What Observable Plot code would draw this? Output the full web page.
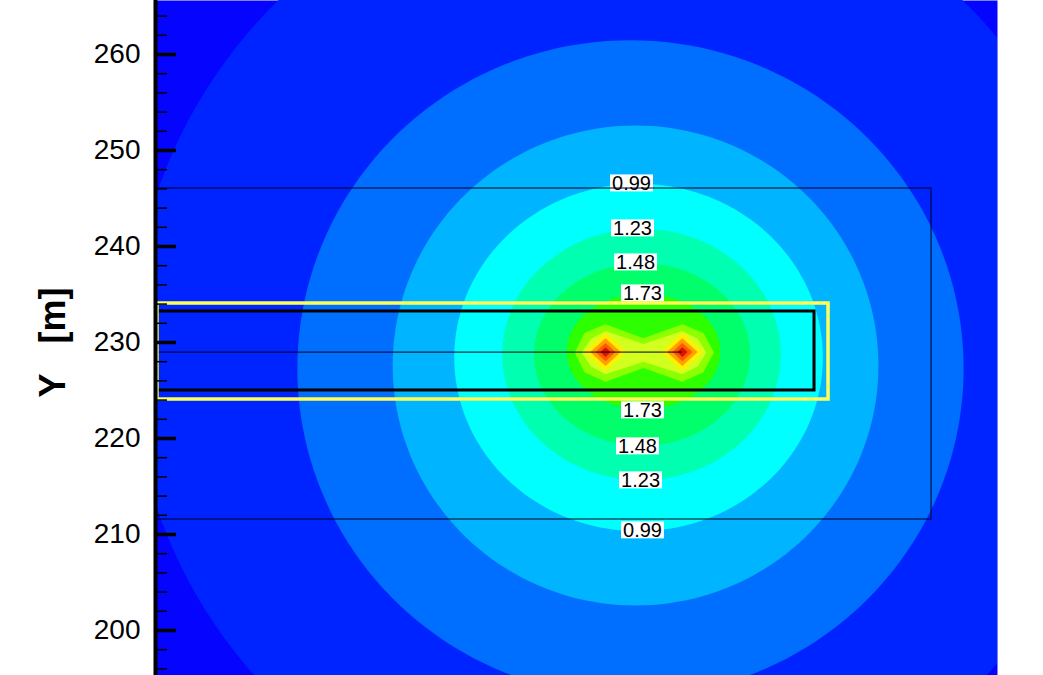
<!DOCTYPE html>
<html><head><meta charset="utf-8">
<script src="https://cdn.jsdelivr.net/npm/d3@7"></script>
<script src="https://cdn.jsdelivr.net/npm/@observablehq/plot@0.6"></script>
<style>body{margin:0;background:#fff;}</style>
</head><body><div id="chart"></div>
<script>
// ---- data (metres) ----
const backgroundColor = "#0404FF";
// outer contour bands, approximated by ellipses
const ellipseLevels = [0.25, 0.50, 0.74, 0.99, 1.23, 1.48, 1.73];
const ellipseCx = [1.56, 2.60, 3.13, 3.44, 3.75, 3.80, 3.96];
const ellipseCy = [229.17, 227.29, 227.60, 228.44, 228.75, 228.75, 229.06];
const ellipseRx = [51.0, 34.7, 25.3, 19.2, 14.5, 11.25, 8.0];
const ellipseRy = [51.0, 34.2, 25.0, 18.1, 13.1, 9.5, 6.0];
const ellipseColors = ["#0024FF", "#006EFF", "#00B4FF", "#00FFFF", "#00FFB0", "#00FF6A", "#2EFF00"];
// inner two-lobed bands
const peanutLevels = [1.97, 2.22];
const peanutColors = ["#8CFF00", "#D2FF1E"];
const peanut197X = [-3.2, -2.2, 0, 3.96, 8.0, 10.2, 11.3, 10.2, 8.0, 3.96, 0, -2.2];
const peanut197Y = [228.96, 231.0, 231.9, 230.45, 231.9, 231.0, 228.96, 226.9, 225.9, 227.35, 225.9, 226.9];
const peanut222X = [-2.5, -1.5, 0, 3.96, 8.0, 9.6, 10.5, 9.6, 8.0, 3.96, 0, -1.5];
const peanut222Y = [228.96, 230.4, 231.2, 229.85, 231.2, 230.4, 228.96, 227.5, 226.7, 228.0, 226.7, 227.5];
// diamond-shaped peaks around the two sources
const sourceX = [0, 8.0];
const sourceY = 229.0;
const diamondLevels = [2.47, 2.71, 2.96, 3.21];
const diamondHx = [2.2, 1.6, 1.05, 0.55];
const diamondHy = [2.0, 1.45, 0.95, 0.5];
const diamondColors = ["#FFF000", "#FFA000", "#FF5A00", "#D81400"];
// contour labels
const labelText = ["0.99", "1.23", "1.48", "1.73", "1.73", "1.48", "1.23", "0.99"];
const labelX = [2.71, 2.81, 3.13, 3.85, 3.85, 3.33, 3.65, 3.85];
const labelY = [246.56, 241.875, 238.33, 235.1, 222.92, 219.17, 215.625, 210.42];
// overlay geometry
const outerBox = {x1: -50, x2: 33.96, y1: 211.56, y2: 246.04};
const blackBox = {x1: -46.7, x2: 21.77, y1: 225.0, y2: 233.23};
const yellowBox = {x1: -46.67, x2: 23.23, y1: 224.06, y2: 234.06};
const centerLine = {x1: -50, x2: 8.0, y: 229.0};
// axis ticks
const majorTicks = [200, 210, 220, 230, 240, 250, 260];
const minorTicks = [196, 198, 202, 204, 206, 208, 212, 214, 216, 218, 222, 224, 226, 228, 232, 234, 236, 238, 242, 244, 246, 248, 252, 254, 256, 258, 262, 264];
const yTitle = "Y\u00a0\u00a0\u00a0[m]";

// ---- shapes ----
function ellipsePts(cx, cy, rx, ry, n = 180) {
  return d3.range(n).map(i => {
    const t = 2 * Math.PI * i / n;
    return {x: cx + rx * Math.cos(t), y: cy + ry * Math.sin(t)};
  });
}
function diamondPts(cx, cy, hx, hy) {
  return [{x: cx - hx, y: cy}, {x: cx, y: cy + hy}, {x: cx + hx, y: cy}, {x: cx, y: cy - hy}];
}
const bandMarks = [];
ellipseLevels.forEach((lv, i) => {
  bandMarks.push(Plot.line(ellipsePts(ellipseCx[i], ellipseCy[i], ellipseRx[i], ellipseRy[i]),
    {x: "x", y: "y", fill: ellipseColors[i], stroke: "none", curve: "linear-closed", clip: true}));
});
const peanutXs = [peanut197X, peanut222X], peanutYs = [peanut197Y, peanut222Y];
peanutLevels.forEach((lv, i) => {
  const pts = peanutXs[i].map((x, j) => ({x, y: peanutYs[i][j]}));
  bandMarks.push(Plot.line(pts, {x: "x", y: "y", fill: peanutColors[i], stroke: "none", curve: "linear-closed", clip: true}));
});
diamondLevels.forEach((lv, i) => {
  sourceX.forEach(sx => {
    bandMarks.push(Plot.line(diamondPts(sx, sourceY, diamondHx[i], diamondHy[i]),
      {x: "x", y: "y", fill: diamondColors[i], stroke: "none", curve: "linear-closed", clip: true}));
  });
});
const labels = labelText.map((t, i) => ({t, x: labelX[i], y: labelY[i]}));

const plot = Plot.plot({
  width: 1043, height: 675,
  marginLeft: 155, marginRight: 46, marginTop: 0, marginBottom: 0,
  x: {domain: [-46.875, 40.83], axis: null},
  y: {domain: [195.31, 265.625]},
  style: {fontFamily: "'Liberation Sans', Arial, sans-serif", background: "white", color: "black"},
  marks: [
    Plot.frame({fill: backgroundColor, stroke: "none"}),
    ...bandMarks,
    Plot.text(labels, {x: "x", y: "y", text: "t", fontSize: 20, fill: "black", className: "clabel"}),
    Plot.rect([outerBox], {x1: "x1", x2: "x2", y1: "y1", y2: "y2", fill: "none", stroke: "#000018", strokeWidth: 1, clip: true}),
    Plot.ruleY([centerLine], {y: "y", x1: "x1", x2: "x2", stroke: "#000018", strokeWidth: 1, clip: true}),
    Plot.rect([blackBox], {x1: "x1", x2: "x2", y1: "y1", y2: "y2", fill: "none", stroke: "#000000", strokeWidth: 3, clip: true}),
    Plot.rect([yellowBox], {x1: "x1", x2: "x2", y1: "y1", y2: "y2", fill: "none", stroke: "#FFFF55", strokeWidth: 3.5, clip: true}),
    Plot.frame({anchor: "left", stroke: "black", strokeWidth: 4}),
    Plot.axisY(minorTicks, {anchor: "right", frameAnchor: "left", tickSize: 11, strokeWidth: 1.5, fill: "none", label: null}),
    Plot.axisY(majorTicks, {anchor: "right", frameAnchor: "left", tickSize: 20, strokeWidth: 3.5, fill: "none", label: null}),
    Plot.axisY(majorTicks, {anchor: "left", tickSize: 0, tickPadding: 15, fontSize: 28, label: null}),
    Plot.text([{t: yTitle, y: 230.0}], {text: "t", y: "y", frameAnchor: "left", textAnchor: "middle", dx: -102, rotate: -90, fontSize: 36, fontWeight: "bold", fill: "black"})
  ]
});
document.getElementById("chart").appendChild(plot);

// white boxes behind the contour labels
d3.select(plot).selectAll(".clabel text").each(function() {
  const b = this.getBBox();
  const cy = b.y + b.height / 2;
  d3.select(this.parentNode).insert("rect", () => this)
    .attr("x", b.x - 2).attr("width", b.width + 4)
    .attr("y", cy - 8.5).attr("height", 17)
    .attr("fill", "white")
    .attr("transform", this.getAttribute("transform"));
});
</script>
</body></html>
